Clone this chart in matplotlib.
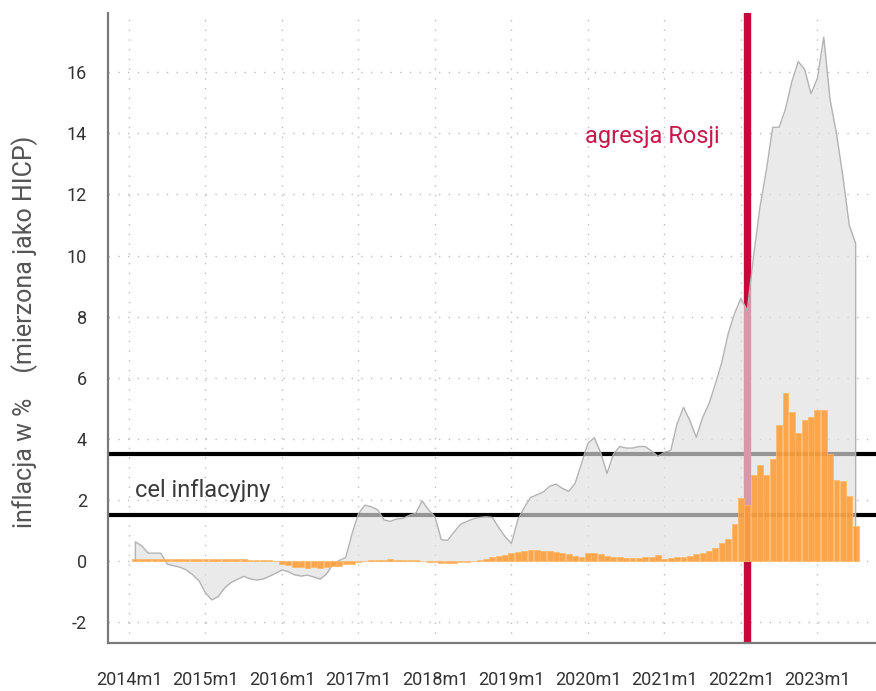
import numpy as np
import matplotlib
matplotlib.use("Agg")
import matplotlib.pyplot as plt

plt.rcParams['font.family'] = ['Roboto', 'DejaVu Sans']

# monthly index: 0 = 2014m1
months = list(range(1, 115))

hicp = [0.63, 0.5, 0.26, 0.26, 0.26, -0.1, -0.15, -0.2, -0.29, -0.45, -0.65,
        -1.04, -1.27, -1.16, -0.88, -0.7, -0.6, -0.5, -0.58, -0.62, -0.59, -0.5, -0.4,
        -0.29, -0.35, -0.45, -0.49, -0.46, -0.52, -0.59, -0.42, -0.1, 0.02, 0.12, 0.9,
        1.55, 1.83, 1.78, 1.68, 1.35, 1.3, 1.38, 1.4, 1.5, 1.57, 1.97, 1.68,
        1.45, 0.7, 0.68, 0.95, 1.2, 1.3, 1.38, 1.43, 1.45, 1.43, 1.1, 0.8,
        0.58, 1.35, 1.75, 2.08, 2.17, 2.26, 2.45, 2.52, 2.38, 2.28, 2.55, 3.2,
        3.85, 4.04, 3.55, 2.87, 3.5, 3.75, 3.7, 3.7, 3.75, 3.75, 3.6, 3.43,
        3.56, 3.62, 4.5, 5.03, 4.6, 4.05, 4.7, 5.15, 5.8, 6.5, 7.44, 8.1,
        8.6, 8.2, 10.0, 11.6, 12.8, 14.2, 14.2, 14.8, 15.7, 16.35, 16.1, 15.3,
        15.8, 17.15, 15.1, 14.0, 12.6, 11.0, 10.4]

orange = [0.06] * 18 + [0.03] * 4 + [0.01] + [
    -0.1, -0.12, -0.18, -0.2, -0.22, -0.2, -0.22, -0.2, -0.15, -0.15, -0.1, -0.08,
    -0.03, 0.0, 0.03, 0.05, 0.05, 0.07, 0.05, 0.05, 0.03, 0.02, 0.0, -0.02,
    -0.03, -0.05, -0.05, -0.05, -0.04, -0.02, 0.0, 0.04, 0.08, 0.12, 0.16, 0.2,
    0.26, 0.3, 0.34, 0.36, 0.36, 0.34, 0.33, 0.31, 0.26, 0.22, 0.18, 0.15,
    0.25, 0.25, 0.22, 0.16, 0.13, 0.12, 0.1, 0.1, 0.11, 0.12, 0.14, 0.2,
    0.08, 0.1, 0.12, 0.14, 0.18, 0.22, 0.26, 0.33, 0.42, 0.59, 0.72, 1.2,
    2.05, 1.83, 2.83, 3.13, 2.83, 3.35, 4.46, 5.49, 4.87, 4.2, 4.63, 4.71,
    4.93, 4.96, 3.49, 2.66, 2.61, 2.12, 1.14]

target_low, target_high = 1.5, 3.5
invasion_month = 97  # 2022m2

tick_months = list(range(0, 109, 12))
tick_labels = [f"{y}m1" for y in range(2014, 2024)]
yticks = list(range(-2, 17, 2))

fig = plt.figure(figsize=(8.76, 6.91), dpi=100)
ax = fig.add_axes([0.1229, 0.0695, 0.8771, 0.9121])
ax.set_xlim(-3.35, 117.2)
ax.set_ylim(-2.68, 17.95)

grid_kw = dict(color='#bdbdbd', linewidth=1.0, linestyle=(0, (1, 6)), zorder=0)
for yt in yticks:
    ax.axhline(yt, **grid_kw)
for xt in tick_months:
    ax.axvline(xt, **grid_kw)

ax.axhline(target_low, color='black', linewidth=3, zorder=1)
ax.axhline(target_high, color='black', linewidth=3, zorder=1)
ax.axvline(invasion_month, color='#c5093b', linewidth=5.3, zorder=1)

m = np.array(months)
h = np.array(hicp)
ax.fill_between(m, 0, h, color=(225/255, 225/255, 225/255), alpha=0.67,
                linewidth=0, zorder=2)
ox = np.concatenate([[m[0]], m, [m[-1]]])
oy = np.concatenate([[0], h, [0]])
ax.plot(ox, oy, color='#b3b3b3', linewidth=1.0, zorder=3)

ax.bar(m, orange, width=0.92, color='#ff9a30', alpha=0.85,
       edgecolor='#ffb868', linewidth=0.6, zorder=4)

ax.text(1.0, 2.32, "cel inflacyjny", fontsize=17, color='#3a3a3a',
        ha='left', va='center', zorder=5)
ax.text(92.7, 13.9, "agresja Rosji", fontsize=17, color='#c8174a',
        ha='right', va='center', zorder=5)

ax.set_xticks(tick_months)
ax.set_xticklabels(tick_labels)
ax.set_yticks(yticks)
ax.set_yticklabels([str(v) for v in yticks])
ax.tick_params(axis='x', length=0, pad=20, labelsize=13, labelcolor='#333333')
ax.tick_params(axis='y', length=0, pad=15, labelsize=13, labelcolor='#333333')

for s in ['top', 'right']:
    ax.spines[s].set_visible(False)
for s in ['left', 'bottom']:
    ax.spines[s].set_color('#7a7a7a')
    ax.spines[s].set_linewidth(1.6)
    ax.spines[s].set_zorder(6)

fig.text(25/876, 0.52, "inflacja w %    (mierzona jako HICP)", rotation=90,
         fontsize=18, color='#555555', ha='center', va='center')

fig.savefig("out.png", dpi=100)
